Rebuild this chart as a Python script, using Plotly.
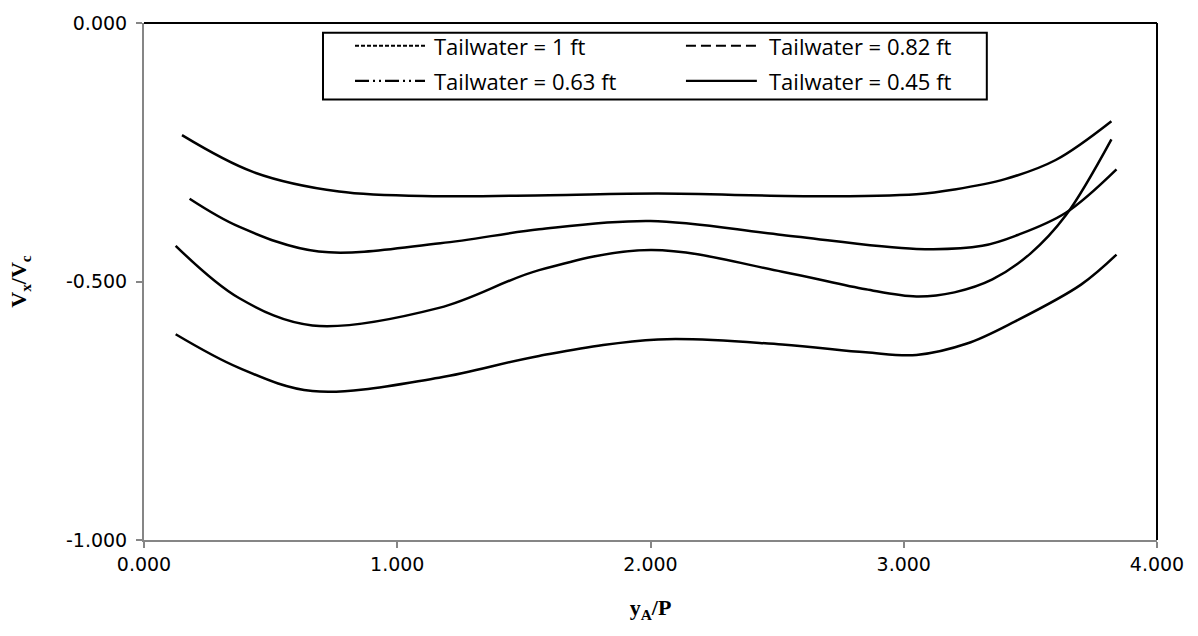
import plotly.graph_objects as go

# Series data: y_A/P versus V_x/V_c for four tailwater depths
series_names = ["Tailwater = 1 ft", "Tailwater = 0.82 ft", "Tailwater = 0.63 ft", "Tailwater = 0.45 ft"]

x_tw100 = [0.15, 0.43, 0.77, 1.17, 1.60, 2.03, 2.65, 3.05, 3.20, 3.40, 3.60, 3.82]
y_tw100 = [-0.217, -0.288, -0.326, -0.335, -0.333, -0.330, -0.335, -0.331, -0.322, -0.302, -0.265, -0.190]

x_tw082 = [0.18, 0.375, 0.69, 1.17, 1.56, 2.00, 2.52, 3.05, 3.31, 3.45, 3.64, 3.84]
y_tw082 = [-0.340, -0.394, -0.442, -0.426, -0.399, -0.383, -0.410, -0.437, -0.431, -0.410, -0.367, -0.283]

x_tw063 = [0.125, 0.375, 0.665, 1.165, 1.56, 2.00, 2.52, 2.85, 3.05, 3.20, 3.35, 3.50, 3.64, 3.82]
y_tw063 = [-0.431, -0.532, -0.585, -0.551, -0.478, -0.439, -0.481, -0.515, -0.529, -0.521, -0.496, -0.446, -0.372, -0.225]

x_tw045 = [0.125, 0.375, 0.665, 1.165, 1.56, 2.03, 2.52, 2.85, 3.05, 3.25, 3.44, 3.70, 3.84]
y_tw045 = [-0.602, -0.667, -0.712, -0.686, -0.644, -0.612, -0.622, -0.637, -0.642, -0.620, -0.577, -0.506, -0.448]

x_ticks = [0, 1, 2, 3, 4]
x_tick_text = ["0.000", "1.000", "2.000", "3.000", "4.000"]
y_ticks = [0, -0.5, -1.0]
y_tick_text = ["0.000", "-0.500", "-1.000"]

xs = [x_tw100, x_tw082, x_tw063, x_tw045]
ys = [y_tw100, y_tw082, y_tw063, y_tw045]
legend_dashes = ["4px,2px", "10px,5px", "14px,4px,2px,4px,2px,4px", "solid"]

fig = go.Figure()
for name, x, y in zip(series_names, xs, ys):
    fig.add_trace(go.Scatter(
        x=x, y=y, name=name, mode="lines",
        line=dict(color="black", width=2.5, shape="spline", smoothing=1.0),
        showlegend=False,
    ))

tick_font = dict(family="DejaVu Sans", size=19, color="black")
title_font = dict(family="Liberation Serif", size=22, color="black")

fig.update_xaxes(
    range=[0, 4], tickvals=x_ticks, ticktext=x_tick_text,
    showline=True, linecolor="#868686", linewidth=2,
    ticks="outside", ticklen=6, tickcolor="#868686", tickwidth=1.5,
    showgrid=False, zeroline=False, tickfont=tick_font,
    title=dict(text="<b>y<sub>A</sub>/P</b>", font=title_font, standoff=26),
)
fig.update_yaxes(
    range=[-1, 0], tickvals=y_ticks, ticktext=y_tick_text,
    showline=True, linecolor="#868686", linewidth=2,
    ticks="outside", ticklen=6, tickcolor="#868686", tickwidth=1.5,
    ticklabelstandoff=5,
    showgrid=False, zeroline=False, tickfont=tick_font,
    title=dict(text="<b>V<sub>x</sub>/V<sub>c</sub></b>", font=title_font, standoff=33),
)

# Plot-area frame on the top and right sides
shapes = [
    dict(type="line", xref="paper", yref="paper", x0=0, x1=1, y0=1, y1=1,
         line=dict(color="black", width=2)),
    dict(type="line", xref="paper", yref="paper", x0=1, x1=1, y0=0, y1=1,
         line=dict(color="black", width=2)),
    # legend box
    dict(type="rect", xref="paper", yref="paper", x0=0.1767, x1=0.832, y0=0.852, y1=0.981,
         line=dict(color="black", width=2), fillcolor="white"),
]

annotations = []
rows = [0.956, 0.888]
cols = [(0.2083, 0.2774, 0.2843), (0.535, 0.605, 0.615)]
slots = [(0, 0), (0, 1), (1, 0), (1, 1)]
for name, dash, (r, c) in zip(series_names, legend_dashes, slots):
    x0, x1, xt = cols[c]
    yy = rows[r]
    shapes.append(dict(type="line", xref="paper", yref="paper", x0=x0, x1=x1, y0=yy, y1=yy,
                       line=dict(color="black", width=2.2, dash=dash)))
    annotations.append(dict(xref="paper", yref="paper", x=xt, y=yy, text=name,
                            showarrow=False, xanchor="left", yanchor="middle",
                            font=dict(family="Open Sans", size=22, color="black")))

fig.update_layout(
    width=1198, height=636,
    margin=dict(l=144, r=41, t=20, b=96),
    plot_bgcolor="white", paper_bgcolor="white",
    shapes=shapes, annotations=annotations,
    showlegend=False,
)

fig.write_html("out.html")
